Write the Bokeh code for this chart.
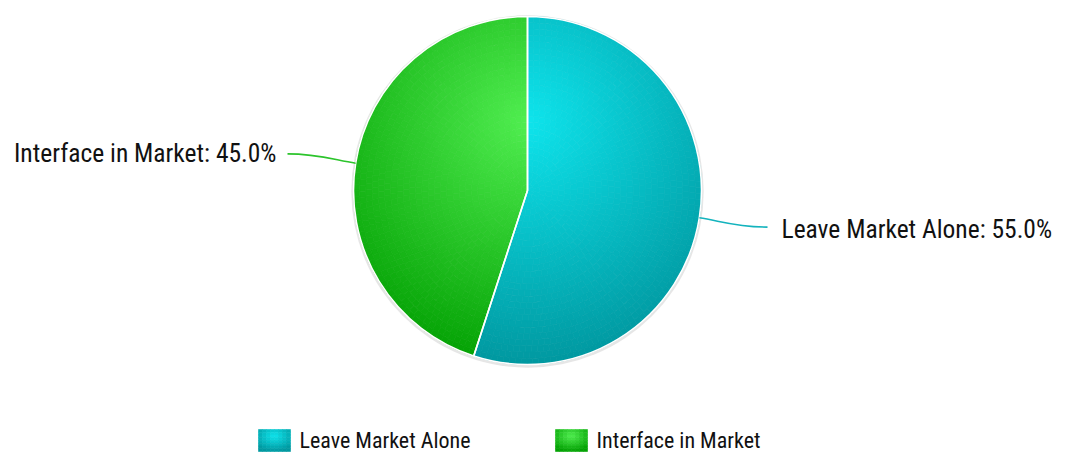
import numpy as np
from bokeh.plotting import figure
from bokeh.models import Range1d
from bokeh.core.properties import value
from bokeh.embed import file_html
from bokeh.resources import INLINE

# ---- data ----
categories = ["Leave Market Alone", "Interface in Market"]
shares = [55.0, 45.0]
base_colors = [(14, 228, 236), (80, 238, 80)]

FONT = "Roboto Condensed"

W, H = 1056, 457
p = figure(width=W, height=H, output_backend="svg", toolbar_location=None,
           x_range=Range1d(0, W), y_range=Range1d(-H, 0),
           min_border=0)
p.axis.visible = False
p.grid.visible = False
p.outline_line_color = None
p.background_fill_color = "white"
p.border_fill_color = "white"

# pie geometry (screen px, y negated)
CX, CY, R = 527.0, -190.0, 174.0
FX, FY = CX, CY + R - 0.3 * 2 * R   # gradient focus (cy = 0.3 of bbox)
GR = 0.7 * 2 * R


def shade(base, t):
    t = min(max(t, 0.0), 1.0)
    dark = [max(c - 76, 0) for c in base]
    return "#%02x%02x%02x" % tuple(int(round(b + (d - b) * t)) for b, d in zip(base, dark))


total = sum(shares)
fracs = [s / total for s in shares]
starts, ends = [], []
a = np.pi / 2
for f in fracs:
    starts.append(a)
    a = a - 2 * np.pi * f
    ends.append(a)

# soft shadow / outline
p.circle(x=CX, y=CY - 1, radius=R + 2.2, fill_color="#c8c8c8", fill_alpha=0.45, line_color=None)
p.circle(x=CX, y=CY, radius=R + 1.0, fill_color="#e0e0e0", fill_alpha=0.9, line_color=None)

# gradient-filled slices (mesh of annular wedges)
NB = 28
xs, ys, rin, rout, sa, ea, cols = [], [], [], [], [], [], []
for k in range(len(fracs)):
    s, e = starts[k], ends[k]   # clockwise: e < s
    span = s - e
    for i in range(NB):
        r0 = R * i / NB
        r1 = R * (i + 1) / NB
        nsteps = max(3, int(np.degrees(span) / 2.0 * (i + 1) / NB) + 1)
        for j in range(nsteps):
            a0 = e + span * j / nsteps
            a1 = e + span * (j + 1) / nsteps
            am = 0.5 * (a0 + a1)
            rm = 0.5 * (r0 + r1)
            px = CX + rm * np.cos(am)
            py = CY + rm * np.sin(am)
            t = np.hypot(px - FX, py - FY) / GR
            xs.append(CX); ys.append(CY)
            rin.append(r0); rout.append(r1)
            sa.append(a0); ea.append(a1)
            cols.append(shade(base_colors[k], t))

p.annular_wedge(x=xs, y=ys, inner_radius=rin, outer_radius=rout,
                start_angle=sa, end_angle=ea, fill_color=cols,
                line_color=cols, line_width=0.7)

# white slice borders
p.wedge(x=[CX] * len(fracs), y=[CY] * len(fracs), radius=R,
        start_angle=ends, end_angle=starts, fill_alpha=0,
        line_color="white", line_width=1.6)

# connectors and data labels
line_cols = ["#13b3bd", "#2cc42c"]
for k in range(len(fracs)):
    mid = 0.5 * (starts[k] + ends[k])
    sx = CX + R * np.cos(mid)
    sy = CY + R * np.sin(mid)
    side = 1 if np.cos(mid) >= 0 else -1
    ex = CX + side * (R + 66)
    ey = CY + (R + 60) * np.sin(mid)
    p.bezier(x0=[sx], y0=[sy], x1=[ex], y1=[ey],
             cx0=[sx + 22 * np.cos(mid)], cy0=[sy + 22 * np.sin(mid)],
             cx1=[ex - side * 30], cy1=[ey],
             line_color=line_cols[k], line_width=1.6)
    label = "%s: %.1f%%" % (categories[k], shares[k])
    gap = 14 if side > 0 else 11
    p.text(x=[ex + side * gap], y=[ey - 2 if side > 0 else ey + 0.5], text=[label],
           text_align="left" if side > 0 else "right", text_baseline="middle",
           text_font=value(FONT), text_font_size="25.5px", text_color="#111111")

# legend
leg_x = [258, 555]
LY = -440
for k in range(len(categories)):
    x0 = leg_x[k]
    n = 8
    rx, ry, rc = [], [], []
    for i in range(n):
        for j in range(n):
            u = (i + 0.5) / n
            v = (j + 0.5) / n
            t = np.hypot(u - 0.5, v - 0.3) / 0.7
            rx.append(x0 + 32 * u)
            ry.append(LY + 11 - 22 * v)
            rc.append(shade(base_colors[k], t))
    p.rect(x=rx, y=ry, width=32 / n, height=22 / n,
           fill_color=rc, line_color=rc, line_width=0.6)
    p.text(x=[x0 + 41], y=[LY], text=[categories[k]], text_align="left",
           text_baseline="middle", text_font=value(FONT), text_font_size="22px",
           text_color="#111111")

open("out.html", "w").write(file_html(p, INLINE))
